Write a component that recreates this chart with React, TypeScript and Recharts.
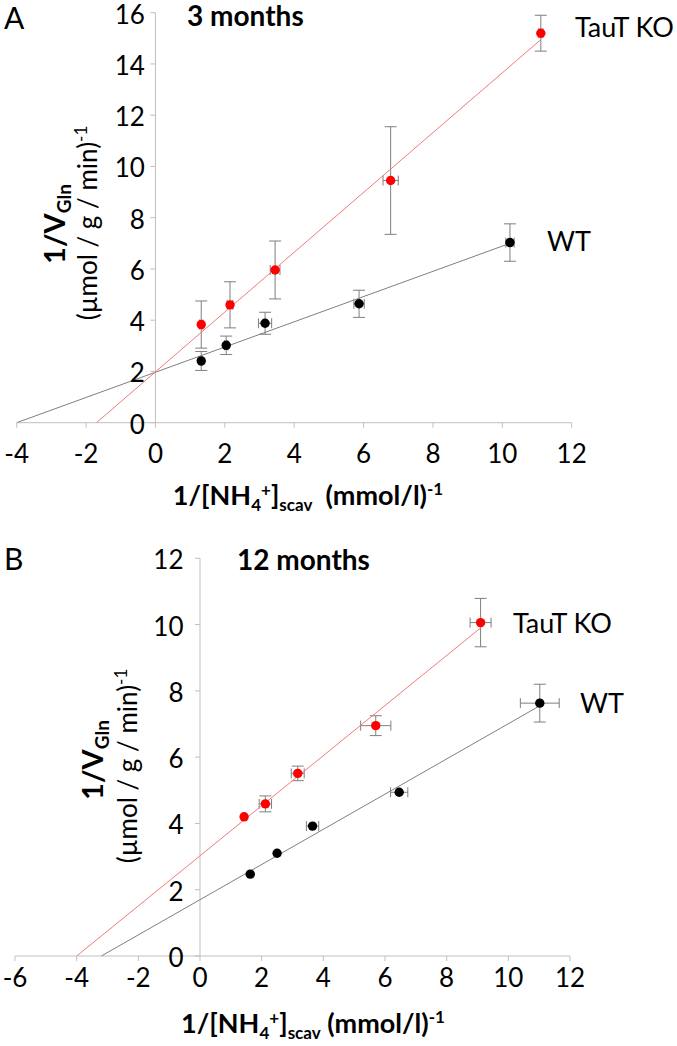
import React from 'react';
import { ScatterChart, Scatter, XAxis, YAxis, ErrorBar, ReferenceLine } from 'recharts';

// ---------- Panel A (3 months) ----------
const koA_x = [1.32, 2.15, 3.45, 6.78, 11.11];
const koA_y = [3.83, 4.6, 5.96, 9.45, 15.2];
const koA_ey = [0.92, 0.9, 1.13, 2.1, 0.7];
const koA_ex = [0.05, 0.08, 0.14, 0.22, 0.06];
const wtA_x = [1.32, 2.04, 3.16, 5.87, 10.22];
const wtA_y = [2.41, 3.02, 3.88, 4.64, 7.03];
const wtA_ey = [0.37, 0.36, 0.43, 0.53, 0.73];
const wtA_ex = [0.03, 0.05, 0.19, 0.15, 0.12];
const fitKoA_x = [-1.7, 11.11];
const fitKoA_y = [0, 14.95];
const fitWtA_x = [-4, 10.22];
const fitWtA_y = [0, 7.0];
const xTicksA = [-4, -2, 0, 2, 4, 6, 8, 10, 12];
const yTicksA = [0, 2, 4, 6, 8, 10, 12, 14, 16];

// ---------- Panel B (12 months) ----------
const koB_x = [1.43, 2.12, 3.17, 5.7, 9.1];
const koB_y = [4.2, 4.59, 5.51, 6.95, 10.06];
const koB_ey = [0, 0.24, 0.22, 0.3, 0.73];
const koB_ex = [0, 0.2, 0.21, 0.49, 0.34];
const wtB_x = [1.63, 2.5, 3.65, 6.46, 11.02];
const wtB_y = [2.47, 3.1, 3.92, 4.94, 7.63];
const wtB_ey = [0, 0, 0, 0, 0.57];
const wtB_ex = [0, 0, 0.2, 0.28, 0.63];
const fitKoB_x = [-4.0, 9.1];
const fitKoB_y = [0, 9.9];
const fitWtB_x = [-3.2, 11.02];
const fitWtB_y = [0, 7.55];
const xTicksB = [-6, -4, -2, 0, 2, 4, 6, 8, 10, 12];
const yTicksB = [0, 2, 4, 6, 8, 10, 12];

const FONT = 'Lato, "Open Sans", sans-serif';
const AXIS = '#bfbfbf';
const ERR = '#7f7f7f';
const RED = '#ff0000';
const RED_LINE = '#f07a7a';
const GRAY_LINE = '#7f7f7f';
const Y_AXIS_W = 10;

type Pt = { x: number; y: number; ex: number; ey: number };
const toPoints = (xs: number[], ys: number[], exs?: number[], eys?: number[]): Pt[] =>
  xs.map((x, i) => ({ x, y: ys[i], ex: exs ? exs[i] : 0, ey: eys ? eys[i] : 0 }));

const Empty = () => <g />;
const makeDot = (color: string, r: number) => (p: any) =>
  p.cx == null ? <g /> : <circle cx={p.cx} cy={p.cy} r={r} fill={color} />;

interface Cfg {
  width: number;
  height: number;
  plotLeft: number;
  margin: { top: number; right: number; bottom: number; left: number };
  xDomain: [number, number];
  yDomain: [number, number];
  xTicks: number[];
  yTicks: number[];
  ko: Pt[];
  wt: Pt[];
  fitKo: Pt[];
  fitWt: Pt[];
  yGap: number;
  xDy: number;
  tickFont: number;
}

const cfgA: Cfg = {
  width: 677,
  height: 520,
  plotLeft: 16.7,
  margin: { top: 12.7, right: 105.3, bottom: 67.3, left: 16.7 - Y_AXIS_W },
  xDomain: [-4, 12],
  yDomain: [0, 16],
  xTicks: xTicksA,
  yTicks: yTicksA,
  ko: toPoints(koA_x, koA_y, koA_ex, koA_ey),
  wt: toPoints(wtA_x, wtA_y, wtA_ex, wtA_ey),
  fitKo: toPoints(fitKoA_x, fitKoA_y),
  fitWt: toPoints(fitWtA_x, fitWtA_y),
  yGap: 10.5,
  xDy: 35,
  tickFont: 26,
};

const cfgB: Cfg = {
  width: 677,
  height: 526,
  plotLeft: 15,
  margin: { top: 38.3, right: 107, bottom: 60, left: 15 - Y_AXIS_W },
  xDomain: [-6, 12],
  yDomain: [0, 12],
  xTicks: xTicksB,
  yTicks: yTicksB,
  ko: toPoints(koB_x, koB_y, koB_ex, koB_ey),
  wt: toPoints(wtB_x, wtB_y, wtB_ex, wtB_ey),
  fitKo: toPoints(fitKoB_x, fitKoB_y),
  fitWt: toPoints(fitWtB_x, fitWtB_y),
  yGap: 16.5,
  xDy: 26,
  tickFont: 26,
};

function Panel({ cfg }: { cfg: Cfg }) {
  const { width, height, margin, xDomain, yDomain } = cfg;
  const plotW = width - cfg.plotLeft - margin.right;
  const zeroPx = cfg.plotLeft + (plotW * (0 - xDomain[0])) / (xDomain[1] - xDomain[0]);

  const yTick = (props: any) => {
    const { y, payload } = props;
    return (
      <g>
        <line x1={zeroPx - 5} x2={zeroPx} y1={y} y2={y} stroke={AXIS} strokeWidth={1} />
        <text
          x={zeroPx - cfg.yGap}
          y={y}
          dy={1}
          textAnchor="end"
          dominantBaseline="central"
          fontFamily={FONT}
          fontSize={cfg.tickFont}
          fill="#000"
        >
          {payload.value}
        </text>
      </g>
    );
  };

  const xTick = (props: any) => {
    const { x, y, payload } = props;
    return (
      <text x={x} y={y} dy={cfg.xDy} textAnchor="middle" fontFamily={FONT} fontSize={cfg.tickFont} fill="#000">
        {payload.value}
      </text>
    );
  };

  return (
    <ScatterChart width={width} height={height} margin={margin}>
      <XAxis
        type="number"
        dataKey="x"
        domain={xDomain}
        ticks={cfg.xTicks}
        interval={0}
        allowDataOverflow
        axisLine={{ stroke: AXIS, strokeWidth: 1 }}
        tickLine={{ stroke: AXIS, strokeWidth: 1 }}
        tickSize={5}
        tickMargin={0}
        height={30}
        tick={xTick}
      />
      <YAxis
        type="number"
        dataKey="y"
        domain={yDomain}
        ticks={cfg.yTicks}
        interval={0}
        allowDataOverflow
        width={Y_AXIS_W}
        axisLine={false}
        tickLine={false}
        tick={yTick}
      />
      <ReferenceLine x={0} stroke={AXIS} strokeWidth={1} />
      <Scatter data={cfg.fitWt} line={{ stroke: GRAY_LINE, strokeWidth: 1 }} shape={Empty} isAnimationActive={false} />
      <Scatter data={cfg.fitKo} line={{ stroke: RED_LINE, strokeWidth: 1 }} shape={Empty} isAnimationActive={false} />
      <Scatter data={cfg.wt} fill="#000" shape={makeDot('#000', 4.7)} isAnimationActive={false}>
        <ErrorBar dataKey="ey" direction="y" width={6} stroke={ERR} strokeWidth={1} isAnimationActive={false} />
        <ErrorBar dataKey="ex" direction="x" width={5} stroke={ERR} strokeWidth={1} isAnimationActive={false} />
      </Scatter>
      <Scatter data={cfg.ko} fill={RED} shape={makeDot(RED, 4.7)} isAnimationActive={false}>
        <ErrorBar dataKey="ey" direction="y" width={6} stroke={ERR} strokeWidth={1} isAnimationActive={false} />
        <ErrorBar dataKey="ex" direction="x" width={5} stroke={ERR} strokeWidth={1} isAnimationActive={false} />
      </Scatter>
    </ScatterChart>
  );
}

function XTitle({ cx, y, doubleSpace }: { cx: number; y: number; doubleSpace: boolean }) {
  return (
    <text x={cx} y={y} textAnchor="middle" fontFamily={FONT} fontWeight="bold" fontSize={27} style={{ whiteSpace: 'pre' }}>
      <tspan>1/[NH</tspan>
      <tspan fontSize={17} dy={6}>4</tspan>
      <tspan fontSize={17} dy={-15}>+</tspan>
      <tspan dy={9}>]</tspan>
      <tspan fontSize={17} dy={6}>scav</tspan>
      <tspan dy={-6}>{doubleSpace ? '  (mmol/l)' : ' (mmol/l)'}</tspan>
      <tspan fontSize={17} dy={-10}>-1</tspan>
    </text>
  );
}

function YTitle({ bx, by, rx, ry }: { bx: number; by: number; rx: number; ry: number }) {
  return (
    <g>
      <text
        x={bx}
        y={by}
        transform={`rotate(-90 ${bx} ${by})`}
        textAnchor="middle"
        fontFamily={FONT}
        fontWeight="bold"
        fontSize={29}
      >
        <tspan>1/V</tspan>
        <tspan fontSize={19} dy={6}>Gln</tspan>
      </text>
      <text x={rx} y={ry} transform={`rotate(-90 ${rx} ${ry})`} textAnchor="middle" fontFamily={FONT} fontSize={26}>
        <tspan>(µmol / g / min)</tspan>
        <tspan fontSize={17} dy={-10}>-1</tspan>
      </text>
    </g>
  );
}

export default function App() {
  return (
    <div style={{ position: 'absolute', left: 0, top: 0, width: 677, height: 1046, background: '#fff' }}>
      <div style={{ position: 'absolute', left: 0, top: 0 }}>
        <Panel cfg={cfgA} />
      </div>
      <div style={{ position: 'absolute', left: 0, top: 520 }}>
        <Panel cfg={cfgB} />
      </div>
      <svg
        width={677}
        height={1046}
        style={{ position: 'absolute', left: 0, top: 0, pointerEvents: 'none' }}
      >
        <text x={4} y={29} fontFamily={FONT} fontSize={30}>A</text>
        <text x={187} y={26} fontFamily={FONT} fontWeight="bold" fontSize={28}>3 months</text>
        <text x={575} y={37} fontFamily={FONT} fontSize={27}>TauT KO</text>
        <text x={547} y={251} fontFamily={FONT} fontSize={27}>WT</text>
        <XTitle cx={308} y={505} doubleSpace={true} />
        <YTitle bx={65} by={224} rx={97} ry={223} />

        <text x={4} y={570} fontFamily={FONT} fontSize={30}>B</text>
        <text x={237} y={570} fontFamily={FONT} fontWeight="bold" fontSize={28}>12 months</text>
        <text x={513} y={633} fontFamily={FONT} fontSize={27}>TauT KO</text>
        <text x={580} y={713} fontFamily={FONT} fontSize={27}>WT</text>
        <XTitle cx={313} y={1033} doubleSpace={false} />
        <YTitle bx={103} by={760} rx={137} ry={766} />
      </svg>
    </div>
  );
}
